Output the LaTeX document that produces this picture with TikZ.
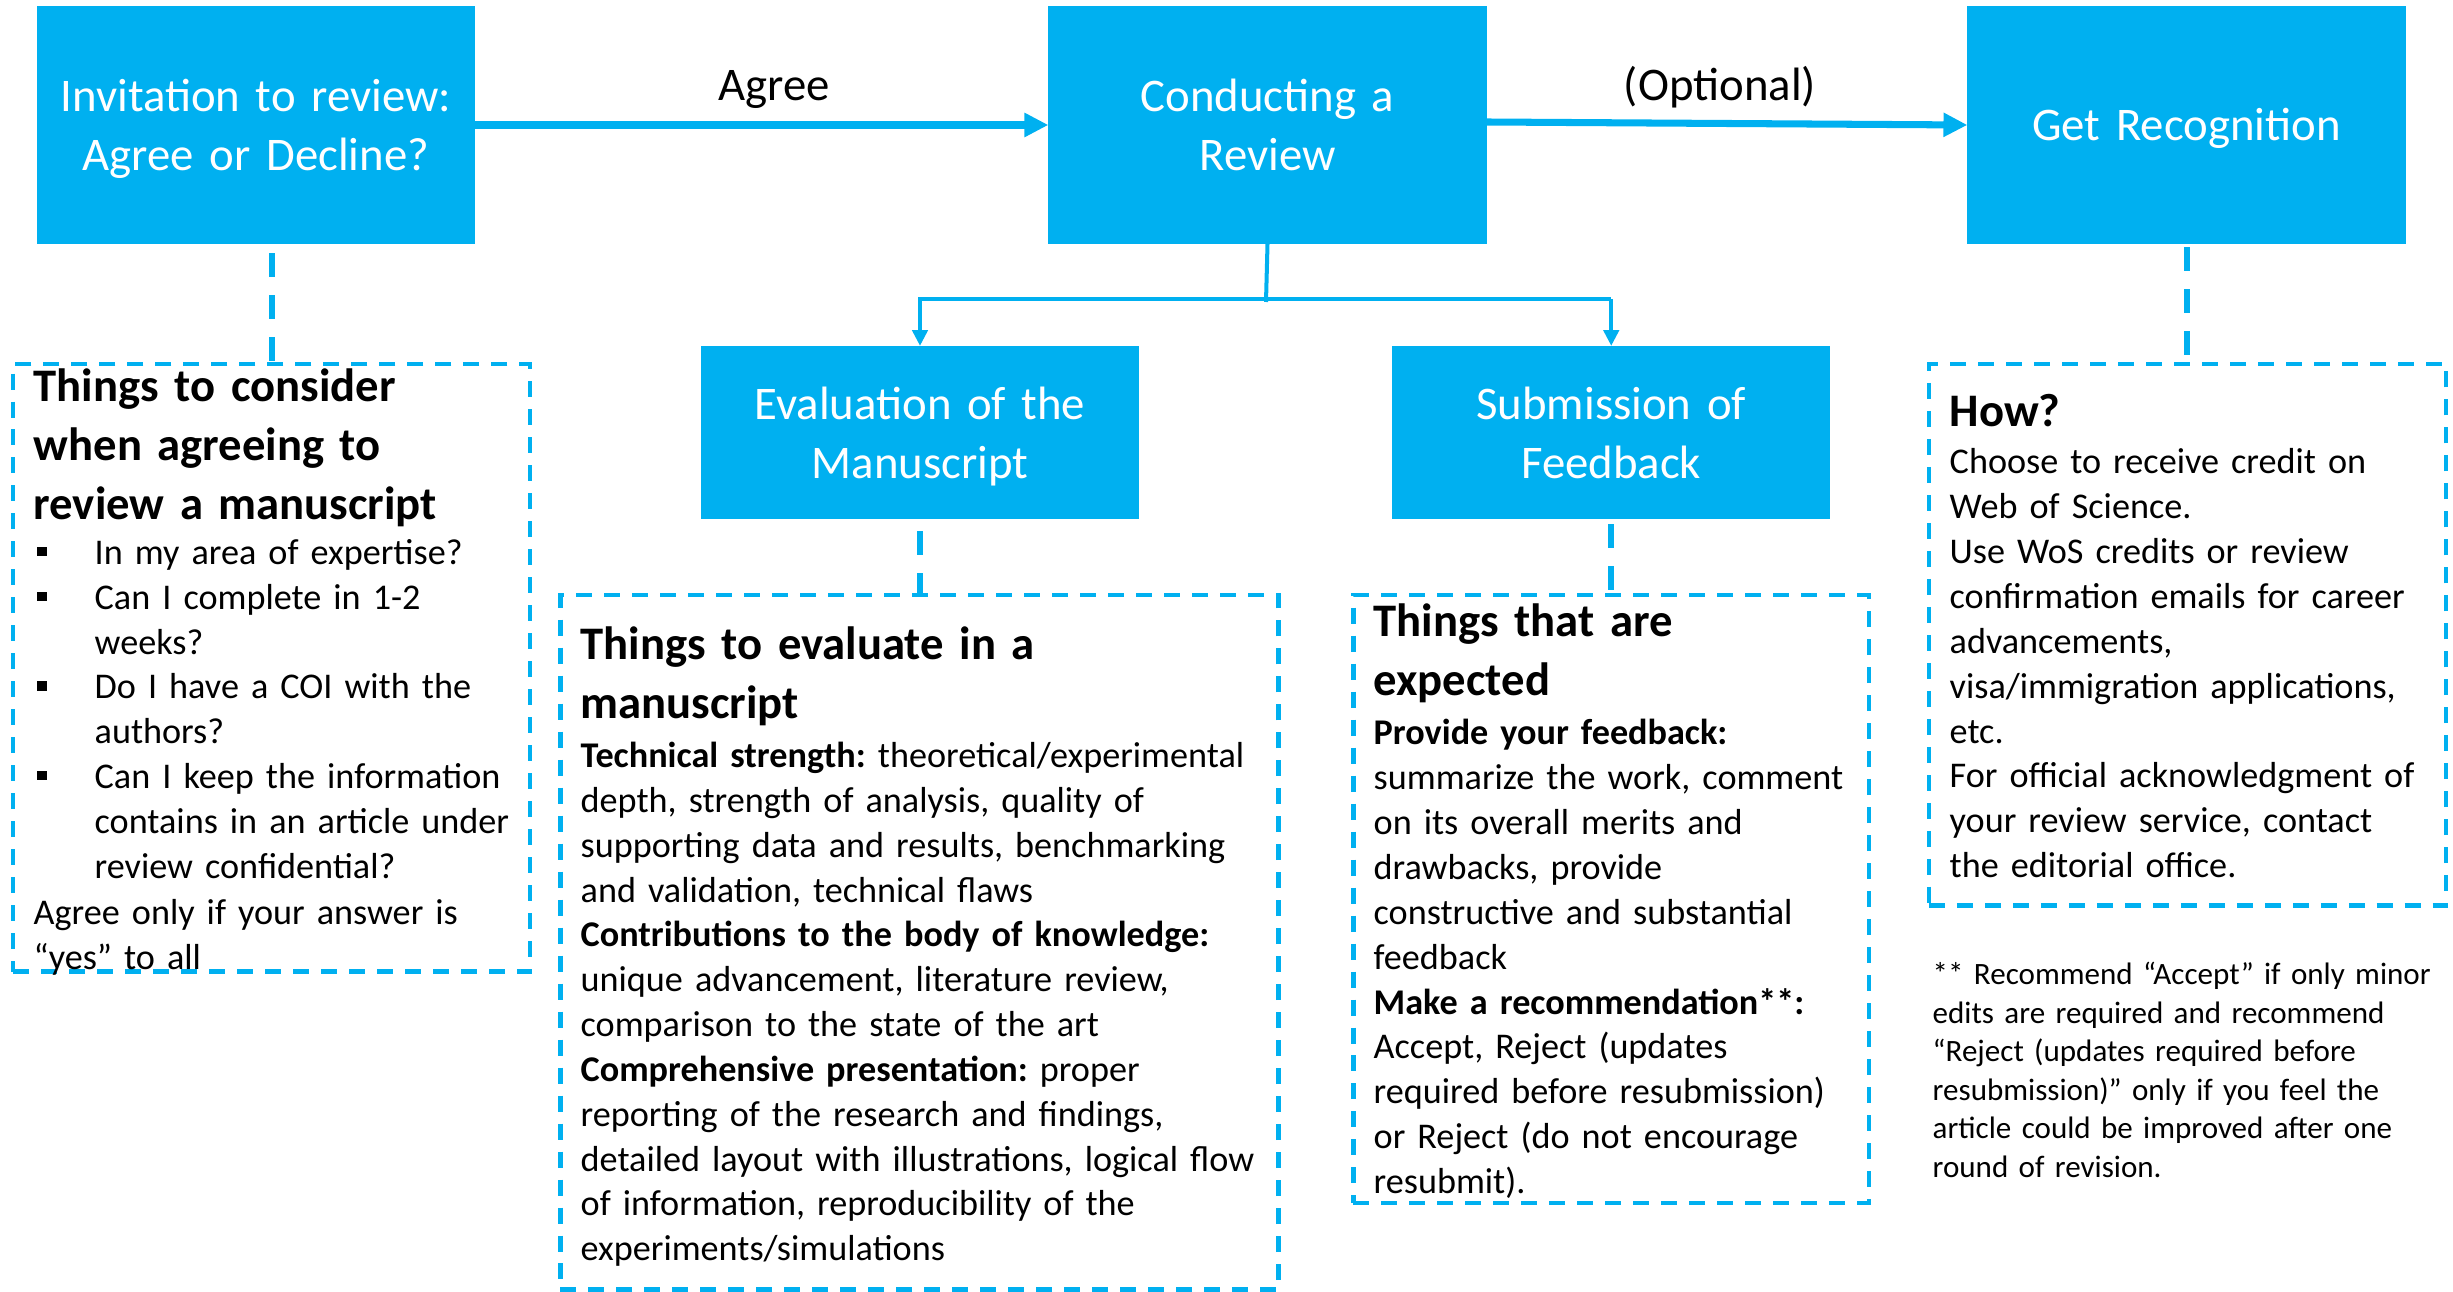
\documentclass[tikz,border=0pt]{standalone}
\usepackage{fontspec}
\setmainfont{Carlito}
\usetikzlibrary{arrows.meta,calc}
\definecolor{cyanb}{HTML}{00B0F0}
\frenchspacing
\newcommand\fBox{\frenchspacing\fontsize{13.3pt}{16.5pt}\selectfont}
\newcommand\fHead{\frenchspacing\bfseries\fontsize{13.27pt}{16.65pt}\selectfont}
\newcommand\fBody{\frenchspacing\fontsize{10.29pt}{12.75pt}\selectfont}
\newcommand\fNote{\frenchspacing\fontsize{8.83pt}{10.92pt}\selectfont}
\begin{document}
\begin{tikzpicture}[x=0.01cm,y=-0.01cm,
  bluebox/.style={rectangle, fill=cyanb, inner sep=0pt, outer sep=0pt, minimum width=4.38cm},
  tallbox/.style={bluebox, minimum height=2.38cm},
  lowbox/.style={bluebox, minimum height=1.73cm},
  dbox/.style={rectangle, draw=cyanb, line width=1.28pt, dash pattern=on 4.55pt off 3.41pt, inner sep=0pt, outer sep=0pt},
  dconn/.style={draw=cyanb, line width=1.7pt, dash pattern=on 6.8pt off 5.2pt},
  bigarrow/.style={draw=cyanb, line width=2pt, -{Triangle[length=6.8pt,width=6.5pt]}},
  thinline/.style={draw=cyanb, line width=1.14pt},
  thinarrow/.style={thinline, -{Triangle[length=4.5pt,width=4.3pt]}},
  btxt/.style={anchor=base, inner sep=0pt, align=center, text width=4.3cm, text=white, font=\fBox},
  lbl/.style={anchor=base, inner sep=0pt, font=\fBox},
  htxt/.style={anchor=base west, inner sep=0pt, align=left, text width=8cm, font=\fHead},
  ptxt/.style={anchor=base west, inner sep=0pt, align=left, text width=8cm, font=\fBody},
  ntxt/.style={anchor=base west, inner sep=0pt, align=left, text width=8cm, font=\fNote},
  bul/.style={fill=black}
]
\useasboundingbox (0,0) rectangle (2453,1292);

% blue boxes
\node[tallbox] (b1) at (255.9,125) {};
\node[tallbox] (b2) at (1267.5,125) {};
\node[tallbox] (b3) at (2186.5,125) {};
\node[lowbox] (b4) at (920,432.5) {};
\node[lowbox] (b5) at (1611.25,432.5) {};

\node[btxt] (t1) at (255.9,112) {Invitation to review:\\Agree or Decline?};
\node[btxt] (t2) at (1267.5,112) {Conducting a\\Review};
\node[btxt] (t3) at (2186.5,141) {Get Recognition};
\node[btxt] (t4) at (920,420) {Evaluation of the\\Manuscript};
\node[btxt] (t5) at (1611.25,420) {Submission of\\Feedback};

% dashed boxes
\node[dbox, minimum width=5.167cm, minimum height=6.075cm] (d1) at (271.65,667.75) {};
\node[dbox, minimum width=7.178cm, minimum height=6.941cm] (d2) at (919.5,942.45) {};
\node[dbox, minimum width=5.153cm, minimum height=6.076cm] (d3) at (1611.05,899.2) {};
\node[dbox, minimum width=5.17cm, minimum height=5.416cm] (d4) at (2187.5,634.8) {};

% main arrows
\draw[bigarrow] (b1.east) -- (b2.west);
\draw[bigarrow] ($(b2.east)+(0,-3)$) -- (b3.west);
\node[lbl] (agree) at (774,101) {Agree};
\node[lbl] (opt) at (1720,101) {(Optional)};

% split connector
\coordinate (j) at (1266,299);
\coordinate (jl) at (b4.north |- j);
\coordinate (jr) at (b5.north |- j);
\draw[thinline] (b2.south) -- ($(j)+(0,3)$);
\draw[thinarrow] (jr) -- (jl) -- (b4.north);
\draw[thinarrow] (jr) -- (b5.north);

% dashed connectors
\draw[dconn] ($(b1.south -| d1.north)+(0,9)$) -- (d1.north);
\draw[dconn] ($(b4.south)+(0,12)$) -- (b4.south |- d2.north);
\draw[dconn] ($(b5.south)+(0,5)$) -- (b5.south |- d3.north);
\draw[dconn] ($(b3.south)+(0,3)$) -- (b3.south |- d4.north);

% left box text
\node[htxt] (h1) at (33,402) {Things to consider\\when agreeing to\\review a manuscript};
\fill[bul] (37,546.8) rectangle (47,556.2);
\fill[bul] (37,591.6) rectangle (47,601);
\fill[bul] (37,681.2) rectangle (47,690.6);
\fill[bul] (37,770.8) rectangle (47,780.2);
\node[ptxt] (l1) at (94,564.5) {In my area of expertise?};
\node[ptxt] (l2) at (94,609.3) {Can I complete in 1-2\\weeks?};
\node[ptxt] (l3) at (94,698.9) {Do I have a COI with the\\authors?};
\node[ptxt] (l4) at (94,788.5) {Can I keep the information\\contains in an article under\\review confidential?};
\node[ptxt] (l5) at (33,924.5) {Agree only if your answer is\\“yes” to all};

% evaluation text
\node[htxt] (h2) at (580,659.5) {Things to evaluate in a\\manuscript};
\node[ptxt] (e1) at (580,767.5) {\textbf{Technical strength:} theoretical/experimental\\
depth, strength of analysis, quality of\\
supporting data and results, benchmarking\\
and validation, technical flaws\\
\textbf{Contributions to the body of knowledge:}\\
unique advancement, literature review,\\
comparison to the state of the art\\
\textbf{Comprehensive presentation:} proper\\
reporting of the research and findings,\\
detailed layout with illustrations, logical flow\\
of information, reproducibility of the\\
experiments/simulations};

% submission text
\node[htxt] (h3) at (1373,637) {Things that are\\expected};
\node[ptxt] (s1) at (1373,745) {\textbf{Provide your feedback:}\\
summarize the work, comment\\
on its overall merits and\\
drawbacks, provide\\
constructive and substantial\\
feedback\\
\textbf{Make a recommendation**:}\\
Accept, Reject (updates\\
required before resubmission)\\
or Reject (do not encourage\\
resubmit).};

% how text
\node[htxt] (h4) at (1949,426.5) {How?};
\node[ptxt] (r1) at (1949,474) {Choose to receive credit on\\
Web of Science.\\
Use WoS credits or review\\
confirmation emails for career\\
advancements,\\
visa/immigration applications,\\
etc.\\
For official acknowledgment of\\
your review service, contact\\
the editorial office.};

% footnote
\node[ntxt] (fn) at (1932,985) {** Recommend “Accept” if only minor\\
edits are required and recommend\\
“Reject (updates required before\\
resubmission)” only if you feel the\\
article could be improved after one\\
round of revision.};
\end{tikzpicture}
\end{document}
